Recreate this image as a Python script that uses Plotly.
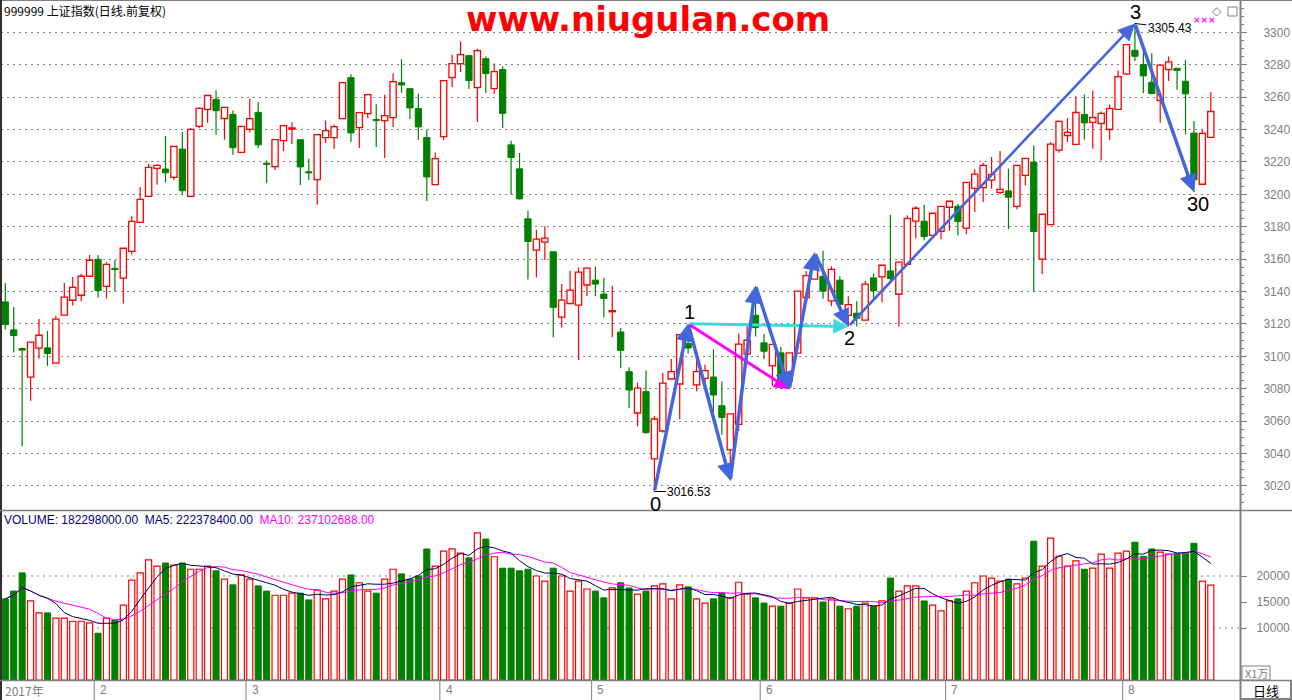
import numpy as np
import pandas as pd
import plotly.graph_objects as go

# ---------------- data ----------------
opens = [3133.6, 3116.3, 3104.8, 3087.1, 3105.0, 3105.2, 3095.8, 3125.4, 3134.6, 3137.7,
         3149.4, 3159.9, 3143.2, 3154.3, 3148.2, 3164.8, 3182.7, 3198.7, 3216.0, 3215.6,
         3210.5, 3227.9, 3198.7, 3241.9, 3252.4, 3258.6, 3246.8, 3249.3, 3225.9, 3240.1,
         3250.6, 3219.1, 3217.1, 3233.1, 3240.3, 3233.7, 3213.4, 3209.1, 3235.0, 3235.0,
         3246.7, 3272.0, 3241.2, 3249.8, 3246.1, 3245.5, 3247.3, 3268.9, 3265.2, 3252.9,
         3235.0, 3206.0, 3235.6, 3272.0, 3280.7, 3285.6, 3265.8, 3283.7, 3265.2, 3277.0,
         3230.5, 3215.7, 3184.9, 3165.5, 3170.5, 3164.5, 3124.2, 3132.6, 3131.6, 3144.0,
         3147.0, 3138.4, 3127.5, 3115.0, 3090.5, 3065.0, 3078.2, 3036.7, 3053.9, 3086.0,
         3082.9, 3108.0, 3082.3, 3086.4, 3087.2, 3069.5, 3042.2, 3058.0, 3101.3, 3125.3,
         3108.3, 3094.1, 3102.1, 3084.8, 3101.9, 3136.3, 3147.6, 3149.4, 3134.2, 3147.0,
         3125.3, 3126.6, 3122.3, 3148.4, 3149.0, 3152.7, 3138.3, 3156.8, 3183.4, 3183.4,
         3174.7, 3177.2, 3192.0, 3192.6, 3179.1, 3203.7, 3204.1, 3208.8, 3201.2, 3202.1,
         3192.6, 3211.7, 3219.9, 3160.0, 3181.3, 3227.3, 3236.3, 3230.8, 3249.3, 3244.4,
         3243.7, 3240.0, 3252.4, 3274.3, 3288.9, 3280.1, 3269.2, 3257.9, 3277.0, 3277.8,
         3269.8, 3237.8, 3206.2, 3235.1]
highs = [3145.3, 3130.5, 3105.4, 3108.7, 3123.1, 3115.7, 3125.0, 3145.3, 3149.0, 3150.9,
         3162.6, 3162.6, 3158.0, 3159.5, 3166.7, 3186.6, 3204.5, 3218.7, 3218.7, 3236.0,
         3229.6, 3238.4, 3240.7, 3253.8, 3261.0, 3264.3, 3253.6, 3251.8, 3241.9, 3259.0,
         3256.8, 3220.8, 3233.7, 3242.4, 3244.4, 3233.7, 3222.0, 3236.8, 3245.5, 3243.0,
         3268.9, 3274.1, 3250.4, 3261.5, 3255.6, 3261.5, 3274.5, 3283.3, 3265.2, 3262.1,
         3239.9, 3225.7, 3270.2, 3286.2, 3294.4, 3285.6, 3289.9, 3285.0, 3280.7, 3279.0,
         3233.0, 3225.5, 3189.8, 3178.1, 3180.3, 3164.5, 3144.6, 3152.8, 3154.8, 3154.8,
         3155.3, 3148.5, 3143.5, 3117.4, 3093.2, 3083.7, 3091.3, 3063.2, 3089.7, 3098.3,
         3113.3, 3120.1, 3103.5, 3094.8, 3104.3, 3084.5, 3064.4, 3114.0, 3119.4, 3143.5,
         3113.8, 3107.4, 3105.8, 3102.1, 3140.2, 3152.7, 3164.0, 3165.1, 3155.6, 3149.4,
         3137.1, 3134.0, 3146.5, 3151.1, 3156.2, 3187.3, 3158.1, 3187.1, 3192.8, 3193.5,
         3188.3, 3192.6, 3195.7, 3194.0, 3207.4, 3215.5, 3219.5, 3223.0, 3226.7, 3215.8,
         3217.9, 3222.2, 3230.2, 3187.7, 3232.2, 3245.6, 3247.0, 3260.6, 3261.6, 3264.1,
         3251.1, 3255.4, 3276.4, 3292.4, 3305.43, 3293.0, 3287.1, 3279.7, 3285.0, 3278.0,
         3282.8, 3245.2, 3240.0, 3263.0]
lows = [3116.5, 3102.3, 3044.4, 3072.5, 3098.6, 3094.1, 3095.8, 3125.4, 3131.3, 3133.8,
        3149.4, 3136.3, 3135.6, 3140.2, 3132.6, 3162.8, 3182.7, 3198.7, 3205.9, 3207.2,
        3208.6, 3199.8, 3198.7, 3240.7, 3244.2, 3236.8, 3233.7, 3224.4, 3225.9, 3238.1,
        3228.6, 3207.0, 3215.0, 3226.7, 3231.1, 3205.8, 3208.8, 3193.6, 3231.7, 3228.0,
        3246.7, 3232.3, 3228.6, 3247.1, 3229.2, 3222.4, 3241.6, 3262.6, 3246.5, 3233.5,
        3195.9, 3206.0, 3233.5, 3266.3, 3275.5, 3265.0, 3244.6, 3262.6, 3262.1, 3241.0,
        3200.1, 3196.8, 3147.4, 3148.7, 3159.4, 3111.7, 3117.8, 3132.2, 3097.7, 3137.0,
        3137.0, 3124.0, 3111.7, 3092.6, 3067.9, 3056.8, 3052.1, 3016.53, 3052.9, 3086.0,
        3061.1, 3101.8, 3078.4, 3081.5, 3062.3, 3051.4, 3023.3, 3054.0, 3099.0, 3112.2,
        3098.2, 3081.7, 3079.7, 3079.7, 3101.9, 3136.3, 3147.6, 3135.6, 3130.9, 3128.0,
        3118.4, 3118.4, 3122.3, 3134.8, 3133.2, 3146.7, 3118.4, 3156.8, 3172.7, 3171.6,
        3174.7, 3172.3, 3177.4, 3174.5, 3175.4, 3189.1, 3195.3, 3203.5, 3200.0, 3178.4,
        3190.8, 3205.5, 3140.0, 3150.7, 3181.3, 3225.7, 3232.4, 3230.8, 3233.7, 3228.1,
        3220.9, 3233.3, 3252.4, 3273.7, 3282.3, 3262.4, 3261.6, 3244.1, 3270.0, 3264.5,
        3237.0, 3201.4, 3206.2, 3235.1]
closes = [3119.6, 3112.8, 3103.8, 3108.7, 3113.0, 3101.7, 3122.9, 3136.5, 3142.6, 3149.4,
          3159.3, 3140.6, 3156.8, 3153.5, 3166.7, 3183.3, 3196.9, 3216.6, 3217.9, 3213.3,
          3229.6, 3202.2, 3240.1, 3253.0, 3261.0, 3251.6, 3253.6, 3228.8, 3241.9, 3246.7,
          3230.5, 3218.5, 3233.7, 3242.4, 3240.5, 3216.9, 3213.2, 3236.8, 3239.3, 3241.8,
          3268.9, 3237.9, 3250.4, 3261.5, 3245.5, 3248.6, 3269.5, 3267.5, 3253.3, 3241.6,
          3210.7, 3222.0, 3270.2, 3280.7, 3286.2, 3270.2, 3288.7, 3274.5, 3275.7, 3250.0,
          3222.7, 3197.2, 3170.9, 3172.3, 3172.9, 3130.2, 3134.7, 3140.9, 3152.0, 3154.4,
          3144.6, 3135.7, 3127.7, 3103.7, 3079.2, 3080.4, 3052.9, 3061.3, 3083.5, 3090.5,
          3113.3, 3105.1, 3090.5, 3091.1, 3076.1, 3062.3, 3064.4, 3107.5, 3109.9, 3117.7,
          3103.1, 3107.4, 3085.2, 3102.1, 3140.2, 3149.8, 3157.9, 3140.2, 3153.7, 3132.1,
          3131.9, 3123.5, 3144.5, 3140.6, 3156.2, 3148.0, 3158.1, 3185.2, 3191.4, 3173.9,
          3188.3, 3192.6, 3195.7, 3183.2, 3207.4, 3212.4, 3217.9, 3212.3, 3203.1, 3198.2,
          3217.9, 3222.2, 3177.0, 3187.7, 3231.0, 3245.0, 3238.2, 3250.5, 3244.1, 3247.4,
          3249.9, 3253.0, 3272.7, 3292.4, 3285.2, 3273.1, 3262.2, 3279.7, 3281.7, 3276.4,
          3262.0, 3209.0, 3237.6, 3251.1]
volumes = [15600, 17100, 20600, 15200, 12900, 12900, 11900, 11900, 11300, 11300,
           11000, 9000, 11900, 11500, 14400, 19200, 20600, 23100, 21900, 22500,
           22100, 22500, 21300, 21300, 21900, 21000, 19400, 18300, 20200, 19400,
           18100, 17100, 16300, 16300, 16700, 16700, 15400, 17300, 15600, 17100,
           19400, 20200, 18700, 17100, 16700, 19400, 21300, 20400, 19400, 20000,
           25200, 21900, 24800, 25200, 24400, 23500, 28300, 27100, 23700, 21500,
           21500, 21000, 21300, 20000, 19000, 21500, 20000, 17100, 19000, 17500,
           17100, 15800, 17700, 18700, 17700, 16500, 17100, 18100, 18500, 15600,
           18300, 17900, 15600, 14800, 15600, 16700, 15800, 18800, 16500, 15800,
           14800, 14200, 14200, 14800, 17500, 15800, 15800, 15000, 15600, 14200,
           13700, 14200, 14800, 14200, 15200, 19600, 17100, 18100, 18100, 15200,
           14400, 13300, 15200, 15600, 17100, 18700, 20000, 19600, 19000, 19400,
           18500, 19600, 26700, 21900, 27300, 23800, 21900, 22900, 21300, 21500,
           24200, 21500, 24400, 24800, 26500, 23800, 25200, 24600, 24200, 24300,
           24300, 26300, 19000, 18229.8]

month_start_idx = [11, 29, 52, 70, 90, 112, 133]
month_labels = ["2", "3", "4", "5", "6", "7", "8"]
year_label = "2017年"
price_ticks = list(range(3020, 3301, 20))
vol_ticks = [10000, 15000, 20000]
vol_grid = [10000, 20000]
wave_labels = [("0", 77, "low"), ("1", 81, "high"), ("2", 100, "low"), ("3", 134, "high"), ("30", 141, "low")]
blue_path = [(77, "low"), (81, "high"), (86, "low"), (89, "high"), (93, "low"), (96, "high"), (100, "low")]
title_text = "999999 上证指数(日线.前复权)"
vol_header = "VOLUME: 182298000.00  MA5: 222378400.00  "
vol_header_ma10 = "MA10: 237102688.00"
watermark = "www.niugulan.com"

# ---------------- layout geometry ----------------
W, H = 1292, 700
RED = "#FF0000"
GREEN = "#008000"
GRAY = "#808080"
BLUE = "#4466DD"

N = len(opens)
idx = np.arange(N)
o = np.array(opens); h = np.array(highs); l = np.array(lows); c = np.array(closes)
v = np.array(volumes, dtype=float)
up = c >= o

X0, DX = 5.3, 8.43
PL, PR = 1, 1240
x_range = [(PL - X0) / DX, (PR - X0) / DX]
Y3300, PPP = 32.3, 1.62
main_top, main_bot = 1, 510
vol_top, vol_bot = 511, 680
p_range = [3300 - (main_bot - Y3300) / PPP, 3300 + (Y3300 - main_top) / PPP]
v_range = [0, (vol_bot - vol_top) / 52 * 10000]

def fy(p):
    return 1 - p / H

fig = go.Figure()

# ---- wicks ----
def wick_xy(mask):
    xs, ys = [], []
    for i in idx[mask]:
        top = max(o[i], c[i]); bot = min(o[i], c[i])
        xs += [i, i, None, i, i, None]
        ys += [h[i], top, None, bot, l[i], None]
    return xs, ys

for mask, col in [(up, RED), (~up, GREEN)]:
    xs, ys = wick_xy(mask)
    fig.add_trace(go.Scatter(x=xs, y=ys, mode="lines", line=dict(color=col, width=1.2),
                             hoverinfo="skip", showlegend=False, xaxis="x", yaxis="y"))

# ---- bodies ----
body_base = np.minimum(o, c)
body_h = np.maximum(np.abs(c - o), 0.7)
fig.add_trace(go.Bar(x=idx[up], y=body_h[up], base=body_base[up], width=0.74,
                     marker=dict(color="white", line=dict(color=RED, width=1.3)),
                     showlegend=False, xaxis="x", yaxis="y"))
fig.add_trace(go.Bar(x=idx[~up], y=body_h[~up], base=body_base[~up], width=0.74,
                     marker=dict(color=GREEN, line=dict(color=GREEN, width=1)),
                     showlegend=False, xaxis="x", yaxis="y"))

# ---- volume ----
fig.add_trace(go.Bar(x=idx[up], y=v[up], width=0.72,
                     marker=dict(color="white", line=dict(color=RED, width=1.2)),
                     showlegend=False, xaxis="x2", yaxis="y2"))
fig.add_trace(go.Bar(x=idx[~up], y=v[~up], width=0.72,
                     marker=dict(color=GREEN, line=dict(color=GREEN, width=1)),
                     showlegend=False, xaxis="x2", yaxis="y2"))
vs = pd.Series(v)
ma5 = vs.rolling(5, min_periods=1).mean()
ma10 = vs.rolling(10, min_periods=1).mean()
fig.add_trace(go.Scatter(x=idx, y=ma10, mode="lines", line=dict(color="#FF00FF", width=1),
                         showlegend=False, xaxis="x2", yaxis="y2"))
fig.add_trace(go.Scatter(x=idx, y=ma5, mode="lines", line=dict(color="#000060", width=1),
                         showlegend=False, xaxis="x2", yaxis="y2"))

# ---------------- annotations ----------------
ann = []
def pt(i, kind):
    return h[i] if kind == "high" else l[i]

def arrow(a, b, color, width, size=1.0):
    ann.append(dict(x=b[0], y=pt(*b), ax=a[0], ay=pt(*a), xref="x", yref="y",
                    axref="x", ayref="y", text="", showarrow=True, arrowhead=2,
                    arrowsize=size, arrowwidth=width, arrowcolor=color, standoff=0,
                    startstandoff=0))

arrow((81, "high"), (100, "low"), "#40D8E0", 3)
arrow((81, "high"), (93, "low"), "#FF00FF", 3)
for a, b in zip(blue_path[:-1], blue_path[1:]):
    arrow(a, b, BLUE, 3.5)
arrow((100, "low"), (134, "high"), BLUE, 2.6, 1.3)
arrow((134, "high"), (141, "low"), BLUE, 3.5)

for txt, i, kind in wave_labels:
    ys = 12 if kind == "high" else -12
    ann.append(dict(x=i, y=pt(i, kind), xref="x", yref="y", text=txt, showarrow=False,
                    yshift=ys, xshift=(4 if txt == "30" else 1), yanchor="middle",
                    font=dict(family="Liberation Sans", size=20, color="black")))

# extreme labels
ann.append(dict(x=77, y=l[77], xref="x", yref="y", text=f"{l[77]:.2f}", showarrow=True,
                ax=35, ay=0, arrowhead=0, arrowwidth=1, arrowcolor="black",
                font=dict(family="Liberation Sans", size=12, color="black")))
ann.append(dict(x=134, y=h[134], xref="x", yref="y", text=f"{h[134]:.2f}", showarrow=True,
                ax=35, ay=4, arrowhead=0, arrowwidth=1, arrowcolor="black",
                font=dict(family="Liberation Sans", size=12, color="black")))

# header texts
ann.append(dict(x=2 / W, y=fy(11), xref="paper", yref="paper", text=title_text,
                showarrow=False, xanchor="left", yanchor="middle",
                font=dict(family="Noto Sans CJK SC", size=12, color="black")))
ann.append(dict(x=648 / W, y=fy(19), xref="paper", yref="paper", text=f"<b>{watermark}</b>",
                showarrow=False, xanchor="center", yanchor="middle",
                font=dict(family="DejaVu Sans", size=34, color="#FF0000")))
ann.append(dict(x=2 / W, y=fy(520), xref="paper", yref="paper",
                text=vol_header + f"<span style='color:#FF00FF'>{vol_header_ma10}</span>",
                showarrow=False, xanchor="left", yanchor="middle",
                font=dict(family="Liberation Sans", size=12, color="#000080")))
ann.append(dict(x=1204 / W, y=fy(20), xref="paper", yref="paper", text="<b>×××</b>",
                showarrow=False, xanchor="center", yanchor="middle",
                font=dict(family="DejaVu Sans", size=9, color="#FF00FF")))
ann.append(dict(x=1217 / W, y=fy(11), xref="paper", yref="paper", text="◇",
                showarrow=False, xanchor="center", yanchor="middle",
                font=dict(family="DejaVu Sans", size=12, color=GRAY)))

# x axis labels
ann.append(dict(x=3 / W, y=fy(690), xref="paper", yref="paper", text=year_label,
                showarrow=False, xanchor="left", yanchor="middle",
                font=dict(family="Noto Sans CJK SC", size=12, color=GRAY)))
for mi, lab in zip(month_start_idx, month_labels):
    ann.append(dict(x=mi, y=fy(690), xref="x", yref="paper", text=lab, showarrow=False,
                    xanchor="left", yanchor="middle", xshift=0,
                    font=dict(family="Liberation Sans", size=12, color=GRAY)))
ann.append(dict(x=1266 / W, y=fy(690), xref="paper", yref="paper", text="日线",
                showarrow=False, xanchor="center", yanchor="middle",
                font=dict(family="Noto Sans CJK SC", size=13, color="black")))
ann.append(dict(x=1256 / W, y=fy(673), xref="paper", yref="paper", text="X1万",
                showarrow=False, xanchor="center", yanchor="middle",
                font=dict(family="Noto Sans CJK SC", size=11, color=GRAY)))

# ---------------- shapes ----------------
shapes = []
def pline(x0, y0, x1, y1, color=GRAY, width=1):
    shapes.append(dict(type="line", xref="paper", yref="paper", x0=x0 / W, y0=fy(y0),
                       x1=x1 / W, y1=fy(y1), line=dict(color=color, width=width)))

pline(0, 0.5, W, 0.5)
pline(1, 0, 1, 700, "#303030", 2)
pline(1240.5, 0, 1240.5, 700, GRAY, 2)
pline(0, 510.5, W, 510.5, GRAY, 1.5)
pline(0, 680.5, W, 680.5, GRAY, 1.5)
pline(1241, 699, W, 699, GRAY, 2)
pline(1291, 680, 1291, 700, GRAY, 2)
shapes.append(dict(type="rect", xref="paper", yref="paper", x0=1242 / W, x1=1270 / W,
                   y0=fy(680), y1=fy(666), line=dict(color=GRAY, width=1)))
shapes.append(dict(type="rect", xref="paper", yref="paper", x0=1228 / W, x1=1237 / W,
                   y0=fy(16), y1=fy(7), line=dict(color=GRAY, width=1)))
for g in vol_grid:
    shapes.append(dict(type="line", xref="paper", yref="y2", x0=PL / W, x1=PR / W, y0=g, y1=g,
                       line=dict(color=GRAY, width=1, dash="2px,4px"), layer="below"))
for mi in month_start_idx:
    shapes.append(dict(type="line", xref="x", yref="paper", x0=mi - 0.45, x1=mi - 0.45,
                       y0=fy(681), y1=fy(700), line=dict(color=GRAY, width=1)))

fig.update_layout(
    width=W, height=H, margin=dict(l=0, r=0, t=0, b=0, autoexpand=False),
    paper_bgcolor="white", plot_bgcolor="white", barmode="overlay", bargap=0,
    showlegend=False, annotations=ann, shapes=shapes,
    xaxis=dict(domain=[PL / W, PR / W], range=x_range, anchor="y", showticklabels=False,
               showgrid=False, zeroline=False, showline=False, ticks="", automargin=False),
    xaxis2=dict(domain=[PL / W, PR / W], range=x_range, anchor="y2", matches="x",
                showticklabels=False, showgrid=False, zeroline=False, showline=False, ticks="",
                automargin=False),
    yaxis=dict(domain=[fy(main_bot), fy(main_top)], range=p_range, side="right", anchor="x",
               tickvals=price_ticks, ticktext=[str(t) for t in price_ticks],
               showgrid=True, gridcolor=GRAY, griddash="2px,4px", gridwidth=1,
               zeroline=False, showline=False, ticks="outside", ticklen=6, tickcolor=GRAY,
               ticklabelstandoff=14, automargin=False,
               minor=dict(dtick=5, ticks="outside", ticklen=3, tickcolor=GRAY, showgrid=False),
               tickfont=dict(family="Liberation Sans", size=12, color=GRAY)),
    yaxis2=dict(domain=[fy(vol_bot), fy(vol_top)], range=v_range, side="right", anchor="x2",
                tickvals=vol_ticks, ticktext=[str(t) for t in vol_ticks], showgrid=False,
                zeroline=False, showline=False, ticks="outside", ticklen=6, tickcolor=GRAY,
                ticklabelstandoff=7, automargin=False,
                tickfont=dict(family="Liberation Sans", size=12, color=GRAY)),
    hovermode=False,
)

fig.write_html("out.html", config={"displayModeBar": False, "staticPlot": True},
               post_script="document.body.style.margin='0px';document.body.style.overflow='hidden';")
